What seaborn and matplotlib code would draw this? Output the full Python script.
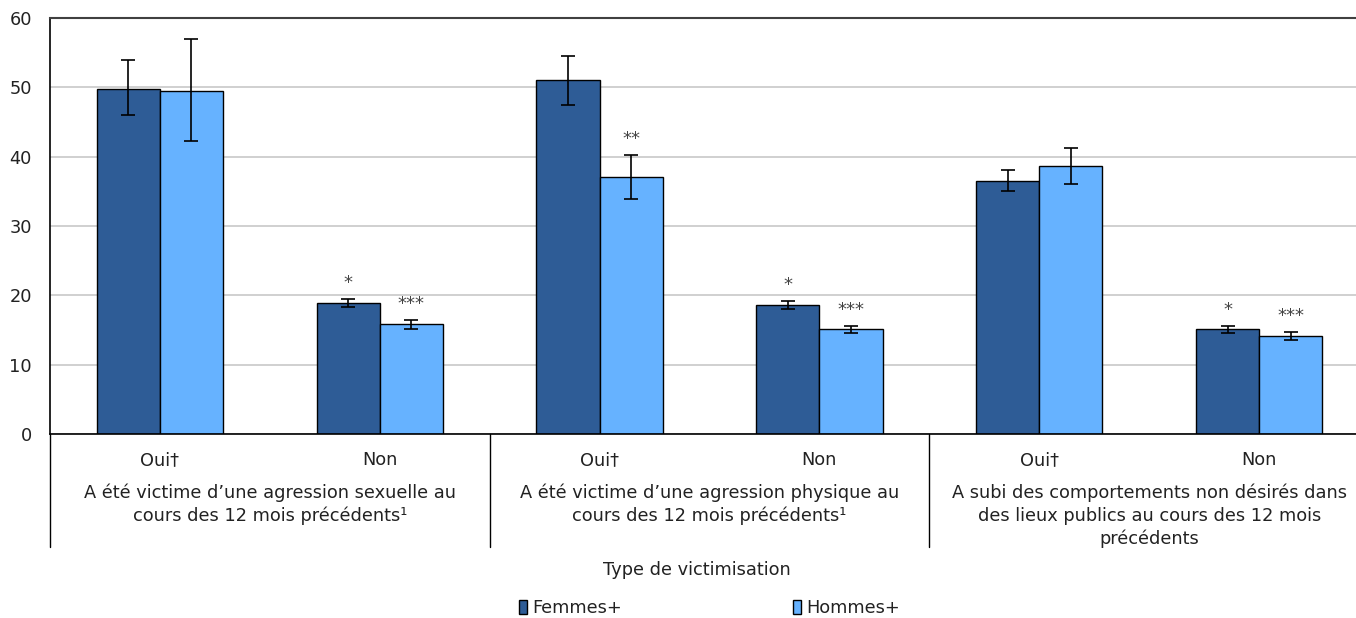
import matplotlib
matplotlib.use("Agg")
import matplotlib.pyplot as plt
import seaborn as sns
import pandas as pd
import numpy as np
from matplotlib.patches import Patch

groups = [
    "A été victime d’une agression sexuelle au\ncours des 12 mois précédents¹",
    "A été victime d’une agression physique au\ncours des 12 mois précédents¹",
    "A subi des comportements non désirés dans\ndes lieux publics au cours des 12 mois\nprécédents",
]
answers = ["Oui†", "Non"]
series = ["Femmes+", "Hommes+"]

femmes = [49.8, 18.9, 51.0, 18.6, 36.5, 15.1]
femmes_lo = [46.0, 18.3, 47.5, 18.0, 35.0, 14.6]
femmes_hi = [53.9, 19.5, 54.5, 19.2, 38.1, 15.6]
hommes = [49.5, 15.8, 37.0, 15.1, 38.6, 14.1]
hommes_lo = [42.3, 15.2, 33.9, 14.6, 36.1, 13.5]
hommes_hi = [57.0, 16.5, 40.3, 15.6, 41.2, 14.7]
femmes_sig = ["", "*", "", "*", "", "*"]
hommes_sig = ["", "***", "**", "***", "", "***"]

colors = {"Femmes+": "#2E5C96", "Hommes+": "#66B2FF"}

cats = [f"{g}|{a}" for g in range(len(groups)) for a in answers]
rows = []
for i, c in enumerate(cats):
    rows.append(dict(cat=c, serie="Femmes+", val=femmes[i]))
    rows.append(dict(cat=c, serie="Hommes+", val=hommes[i]))
df = pd.DataFrame(rows)

sns.set_style("white")
plt.rcParams["font.family"] = ["DejaVu Sans"]
txt = "#222222"
fs = 12.8

fig = plt.figure(figsize=(13.56, 6.18), dpi=100)
ax = fig.add_axes([50 / 1356, 1 - 434 / 618, 1319 / 1356, (434 - 18) / 618])

sns.barplot(data=df, x="cat", y="val", hue="serie", order=cats, hue_order=series,
            palette=colors, width=0.574, gap=0, edgecolor="black", linewidth=1,
            errorbar=None, ax=ax, legend=False, saturation=1)

# error bars and significance markers, positioned from bar patches
bars = ax.patches
n = len(cats)
for s_i, (vals, lo, hi, sig) in enumerate([(femmes, femmes_lo, femmes_hi, femmes_sig),
                                            (hommes, hommes_lo, hommes_hi, hommes_sig)]):
    for i in range(n):
        p = bars[s_i * n + i]
        xc = p.get_x() + p.get_width() / 2
        ax.errorbar(xc, vals[i], yerr=[[vals[i] - lo[i]], [hi[i] - vals[i]]],
                    fmt="none", ecolor="black", elinewidth=1.2, capsize=5, capthick=1.2, zorder=5)
        if sig[i]:
            ax.annotate(sig[i], (xc, hi[i]), xytext=(0, 5), textcoords="offset points",
                        ha="center", va="bottom", fontsize=13, color="#444444")

ax.set_ylim(0, 60)
ax.set_xlim(-0.5, n - 0.5)
ax.set_yticks(range(0, 61, 10))
ax.yaxis.grid(True, color="#C8C8C8", linewidth=1.2)
ax.set_axisbelow(True)
ax.tick_params(axis="y", length=0, labelsize=fs, labelcolor=txt, pad=13)
ax.tick_params(axis="x", length=0, labelsize=fs, labelcolor=txt, pad=12)
ax.set_xticks(range(n))
ax.set_xticklabels([a for g in groups for a in answers])
ax.set_xlabel("")
ax.set_ylabel("")
for side in ["left", "bottom"]:
    ax.spines[side].set_color("black")
    ax.spines[side].set_linewidth(1.2)
ax.spines["top"].set_color("#404040")
ax.spines["top"].set_linewidth(1.5)
ax.spines["right"].set_visible(False)

# group separators and group labels
trans = ax.get_xaxis_transform()
for xb in [-0.5, 1.5, 3.5]:
    ax.plot([xb, xb], [0, -113 / 416], transform=trans, color="black", lw=1, clip_on=False)
for g_i, g in enumerate(groups):
    ax.text(2 * g_i + 0.5, -50 / 416, g, transform=trans, ha="center", va="top",
            fontsize=fs, color=txt, linespacing=1.3)

fig.text(0.514, 1 - 570 / 618, "Type de victimisation", ha="center", va="center",
         fontsize=fs, color=txt)

handles = [Patch(facecolor=colors[s], edgecolor="black", linewidth=1) for s in series]
fig.legend(handles, series, loc="center", bbox_to_anchor=(0.523, 1 - 608 / 618), ncol=2,
           frameon=False, fontsize=fs, handlelength=0.45, handleheight=0.8,
           handletextpad=0.3, columnspacing=9.6, labelcolor=txt)

fig.savefig("out.png", dpi=100)
